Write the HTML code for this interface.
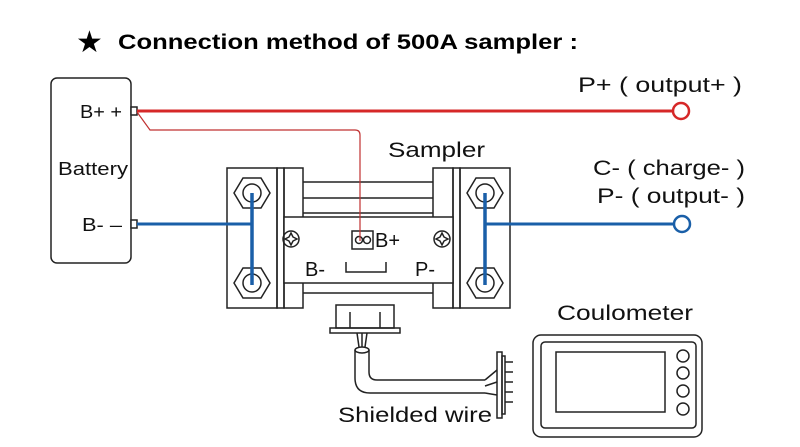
<!DOCTYPE html>
<html><head><style>html,body{margin:0;padding:0;background:#fff}svg{display:block}</style></head><body>
<svg width="800" height="447" viewBox="0 0 800 447" xmlns="http://www.w3.org/2000/svg" font-family="Liberation Sans, sans-serif">
<rect width="800" height="447" fill="#fff"/>
<text x="76" y="52" font-size="30" fill="#000">★</text>
<text x="118" y="49" font-size="21" font-weight="bold" textLength="460" lengthAdjust="spacingAndGlyphs">Connection method of 500A sampler :</text>
<g fill="none" stroke="#222" stroke-width="1.5">
<rect x="51" y="78" width="80" height="185" rx="6"/>
<rect x="131" y="107" width="6" height="8" fill="#fff"/>
<rect x="131" y="220" width="6" height="8" fill="#fff"/>
<rect x="227" y="168" width="50" height="140"/>
<rect x="277" y="168" width="7" height="140"/>
<rect x="284" y="168" width="19" height="140"/>
<rect x="433" y="168" width="20" height="140"/>
<rect x="453" y="168" width="7" height="140"/>
<rect x="460" y="168" width="50" height="140"/>
<line x1="303" y1="182" x2="433" y2="182"/>
<line x1="303" y1="198" x2="433" y2="198"/>
<line x1="303" y1="213" x2="433" y2="213"/>
<line x1="303" y1="293" x2="433" y2="293"/>
<rect x="284" y="217" width="169" height="66" fill="#fff"/>
<polygon points="234,193 243,178 261,178 270,193 261,208 243,208"/>
<circle cx="252" cy="193" r="9"/>
<polygon points="234,283 243,268 261,268 270,283 261,298 243,298"/>
<circle cx="252" cy="283" r="9"/>
<polygon points="467,193 476,178 494,178 503,193 494,208 476,208"/>
<circle cx="485" cy="193" r="9"/>
<polygon points="467,283 476,268 494,268 503,283 494,298 476,298"/>
<circle cx="485" cy="283" r="9"/>
<circle cx="291" cy="239" r="8"/>
<path d="M291 233 l2 4 4 2 -4 2 -2 4 -2 -4 -4 -2 4 -2z"/>
<circle cx="442" cy="239" r="8"/>
<path d="M442 233 l2 4 4 2 -4 2 -2 4 -2 -4 -4 -2 4 -2z"/>
<rect x="352" y="231" width="21" height="18"/>
<circle cx="359" cy="240" r="3.5"/><circle cx="367" cy="240" r="3.5"/>
<path d="M346 262 v10 h40 v-10"/>
<rect x="336" y="305" width="58" height="23"/>
<rect x="330" y="328" width="70" height="5"/>
<line x1="350" y1="312" x2="350" y2="328"/><line x1="380" y1="312" x2="380" y2="328"/>
<path d="M357 333 l2 14 M362 333 v14 M367 333 l-2 14"/>
<ellipse cx="362" cy="350" rx="7" ry="3"/>
<path d="M355 350 V378 Q355 393 370 393 H485 M369 350 V372 Q369 380 377 380 H485"/>
<path d="M485 380 l12 -10 M485 386 l12 -4 M485 393 l12 2"/>
<rect x="497" y="352" width="5" height="66"/>
<rect x="502" y="356" width="3" height="58"/>
<path d="M505 362 h8 M505 372 h8 M505 382 h8 M505 392 h8 M505 402 h8"/>
<rect x="533" y="335" width="169" height="102" rx="8"/>
<rect x="541" y="342" width="155" height="86" rx="4"/>
<rect x="556" y="352" width="109" height="60"/>
<circle cx="683" cy="356" r="6"/><circle cx="683" cy="373" r="6"/><circle cx="683" cy="391" r="6"/><circle cx="683" cy="409" r="6"/>
</g>
<line x1="137" y1="111" x2="673" y2="111" stroke="#d62828" stroke-width="3"/>
<circle cx="681" cy="111" r="8" fill="#fff" stroke="#d62828" stroke-width="2.5"/>
<path d="M137 112 L150 130 H355 Q360 130 360 135 V241" fill="none" stroke="#c03030" stroke-width="1.2"/>
<line x1="137" y1="224" x2="252" y2="224" stroke="#1a5fa8" stroke-width="3"/>
<line x1="252" y1="193" x2="252" y2="285" stroke="#1a5fa8" stroke-width="3.5"/>
<line x1="485" y1="193" x2="485" y2="285" stroke="#1a5fa8" stroke-width="3.5"/>
<line x1="485" y1="224" x2="674" y2="224" stroke="#1a5fa8" stroke-width="3"/>
<circle cx="682" cy="224" r="8" fill="#fff" stroke="#1a5fa8" stroke-width="2.5"/>
<g font-size="18" fill="#111">
<text x="80" y="118" textLength="42" lengthAdjust="spacingAndGlyphs">B+ +</text>
<text x="58" y="175" textLength="70" lengthAdjust="spacingAndGlyphs">Battery</text>
<text x="82" y="231" textLength="40" lengthAdjust="spacingAndGlyphs">B-  –</text>
<text x="375" y="247" font-size="20">B+</text>
<text x="305" y="276" font-size="20">B-</text>
<text x="415" y="276" font-size="20">P-</text>
</g>
<g font-size="21" fill="#111">
<text x="578" y="92" textLength="164" lengthAdjust="spacingAndGlyphs">P+ ( output+ )</text>
<text x="388" y="157" textLength="97" lengthAdjust="spacingAndGlyphs">Sampler</text>
<text x="593" y="175" textLength="152" lengthAdjust="spacingAndGlyphs">C- ( charge- )</text>
<text x="597" y="203" textLength="148" lengthAdjust="spacingAndGlyphs">P- ( output- )</text>
<text x="557" y="320" textLength="136" lengthAdjust="spacingAndGlyphs">Coulometer</text>
<text x="338" y="422" textLength="154" lengthAdjust="spacingAndGlyphs">Shielded wire</text>
</g>
</svg>
</body></html>
